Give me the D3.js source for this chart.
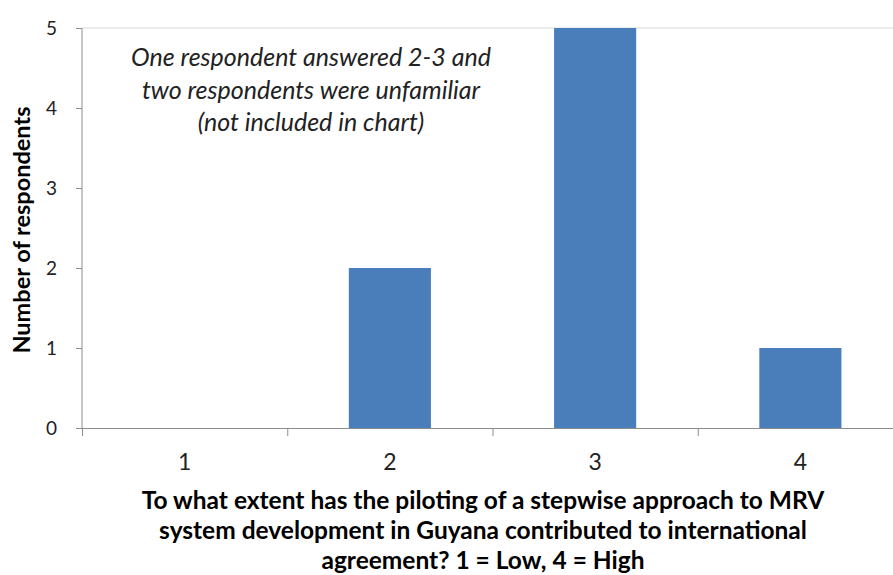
<!DOCTYPE html>
<html>
<head>
<meta charset="utf-8">
<script src="https://cdn.jsdelivr.net/npm/d3@7"></script>
<style>
  body { margin: 0; background: #fff; }
  text { font-family: Lato, "Open Sans", sans-serif; fill: #000; }
</style>
</head>
<body>
<div id="c1"></div>
<script>
// data
categories = ["1", "2", "3", "4"]
counts = [0, 2, 5, 1]
yTicks = [0, 1, 2, 3, 4, 5]
yTitle = "Number of respondents"
xTitle = ["To what extent has the piloting of a stepwise approach to MRV",
          "system development in Guyana contributed to international",
          "agreement? 1 = Low, 4 = High"]
note = ["One respondent answered 2-3 and",
        "two respondents were unfamiliar",
        "(not included in chart)"]

W = 893, H = 575
plot = {left: 82, top: 28, bottom: 428, right: 903}

svg = d3.select("#c1")
  .append("svg")
  .attr("width", W)
  .attr("height", H)

x = d3.scaleBand()
  .domain(categories)
  .range([plot.left, plot.right])
  .paddingInner(0.6)
  .paddingOuter(0.3)

y = d3.scaleLinear()
  .domain([0, 5])
  .range([plot.bottom, plot.top])

// top gridline
svg.append("line")
  .attr("x1", plot.left).attr("x2", W)
  .attr("y1", y(5)).attr("y2", y(5))
  .style("stroke", "#d9d9d9")
  .style("stroke-width", 1)

// bars
svg.selectAll(".bar")
  .data(categories.map((c, i) => ({cat: c, v: counts[i]})))
  .join("rect")
  .attr("class", "bar")
  .attr("x", d => x(d.cat))
  .attr("y", d => y(d.v))
  .attr("width", x.bandwidth())
  .attr("height", d => y(0) - y(d.v))
  .style("fill", "#4a7ebb")

// y axis
yAxis = svg.append("g")
  .attr("transform", `translate(${plot.left}, 0)`)
  .call(d3.axisLeft(y).tickValues(yTicks).tickFormat(d3.format("d")).tickSize(6).tickPadding(19))
yAxis.selectAll("text").style("font-size", "19px").style("fill", "#222")
yAxis.selectAll("line, path").style("stroke", "#8c8c8c")
yAxis.select(".domain").attr("d", `M0,${plot.top}V${plot.bottom}`)

// x axis line + category boundary ticks
xAxis = svg.append("g")
  .attr("transform", `translate(0, ${plot.bottom})`)
  .call(d3.axisBottom(x).tickSize(0).tickPadding(26))
xAxis.select(".domain").remove()
xAxis.selectAll("text").style("font-size", "23px").style("fill", "#222")

svg.append("line")
  .attr("x1", plot.left - 6).attr("x2", W)
  .attr("y1", plot.bottom + 0.5).attr("y2", plot.bottom + 0.5)
  .style("stroke", "#8c8c8c")

step = x.step()
svg.selectAll(".xtick")
  .data(categories)
  .join("line")
  .attr("class", "xtick")
  .attr("x1", (d, i) => plot.left + i * step + 0.5)
  .attr("x2", (d, i) => plot.left + i * step + 0.5)
  .attr("y1", plot.bottom)
  .attr("y2", plot.bottom + 8)
  .style("stroke", "#8c8c8c")

// y title
svg.append("text")
  .attr("transform", `translate(30, ${(plot.top + plot.bottom) / 2 + 2}) rotate(-90)`)
  .attr("text-anchor", "middle")
  .style("font-size", "23.5px")
  .style("font-weight", "bold")
  .text(yTitle)

// x title
svg.selectAll(".xtitle")
  .data(xTitle)
  .join("text")
  .attr("class", "xtitle")
  .attr("x", 483)
  .attr("y", (d, i) => 509 + i * 30)
  .attr("text-anchor", "middle")
  .style("font-size", "24.5px")
  .style("font-weight", "bold")
  .text(d => d)

// note
svg.selectAll(".note")
  .data(note)
  .join("text")
  .attr("class", "note")
  .attr("x", 311)
  .attr("y", (d, i) => 66 + i * 32.5)
  .attr("text-anchor", "middle")
  .style("font-size", "25px")
  .style("font-style", "italic")
  .style("fill", "#222")
  .text(d => d)
</script>
</body>
</html>
